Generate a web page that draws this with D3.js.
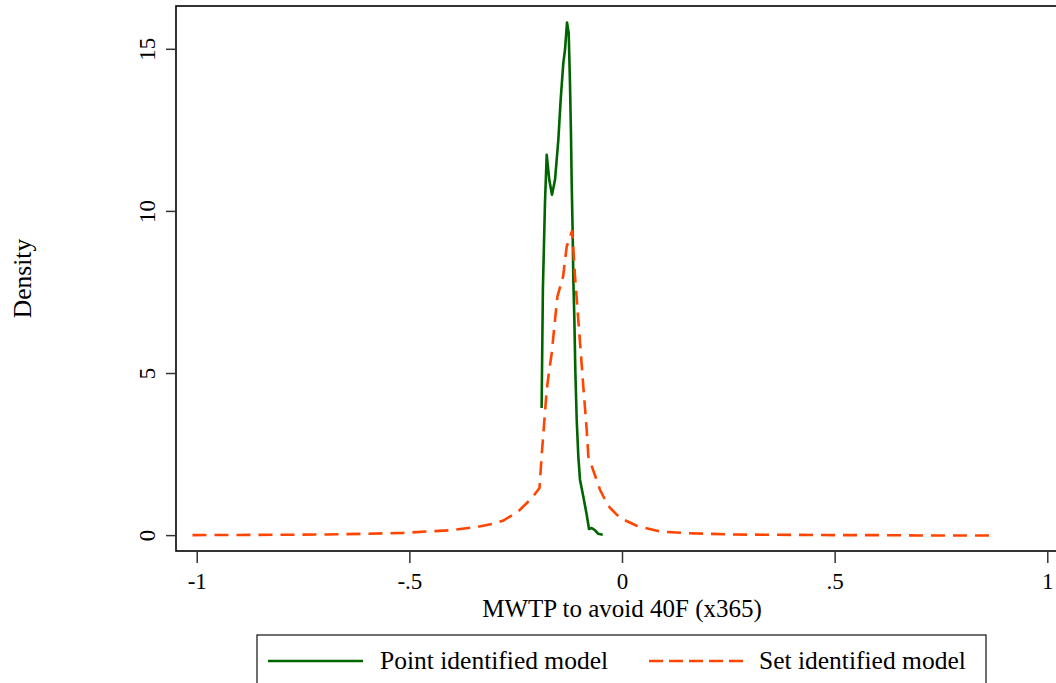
<!DOCTYPE html>
<html>
<head>
<meta charset="utf-8">
<script src="https://cdn.jsdelivr.net/npm/d3@7"></script>
<style>
  html, body { margin: 0; padding: 0; background: #fff; }
  svg { display: block; }
  text { font-family: "Liberation Serif", "Times New Roman", serif; fill: #000; }
</style>
</head>
<body>
<svg id="chart" width="1056" height="683"></svg>
<script>
// ---- data ----
const xTickValues = [-1, -0.5, 0, 0.5, 1];
const xTickLabels = ["-1", "-.5", "0", ".5", "1"];
const yTickValues = [0, 5, 10, 15];
const yTickLabels = ["0", "5", "10", "15"];

const seriesNames = ["Point identified model", "Set identified model"];

// Point identified model (kernel density)
const pointX = [-0.189, -0.186, -0.181, -0.177, -0.171, -0.1646, -0.1575, -0.1497, -0.1442, -0.138, -0.134, -0.1293,
                -0.1253, -0.1223, -0.120, -0.1183, -0.116, -0.1144, -0.112, -0.1098, -0.1065, -0.1027, -0.0988,
                -0.091, -0.083, -0.0776, -0.0713, -0.0635, -0.0557, -0.0454];
const pointY = [3.92, 7.6, 10.3, 11.73, 10.96, 10.50, 10.96, 12.19, 13.43, 14.56, 14.97, 15.81,
                15.48, 13.94, 12.40, 10.87, 9.32, 7.88, 6.64, 5.10, 3.56, 2.43, 1.71,
                1.19, 0.63, 0.19, 0.22, 0.15, 0.04, 0.01];

// Set identified model (kernel density)
const setX = [-1.01, -0.9, -0.8, -0.694, -0.6, -0.514, -0.459, -0.404, -0.342, -0.3, -0.279, -0.244, -0.212, -0.194,
              -0.189, -0.183, -0.177, -0.173, -0.1653, -0.1575, -0.152, -0.1385, -0.130, -0.117,
              -0.1105, -0.1027, -0.091, -0.083, -0.0792, -0.0517, -0.036, -0.028, -0.0047, 0.0345, 0.089, 0.152,
              0.262, 0.35, 0.513, 0.6, 0.7, 0.877];
const setY = [0.0, 0.005, 0.01, 0.02, 0.04, 0.07, 0.11, 0.15, 0.25, 0.36, 0.45, 0.73, 1.14, 1.45,
              2.43, 3.46, 4.48, 4.9, 5.61, 6.64, 7.35, 7.98, 8.90, 9.40,
              7.98, 6.64, 4.59, 3.25, 2.43, 1.40, 0.99, 0.84, 0.53, 0.29, 0.11, 0.06,
              0.02, 0.01, 0.0, 0.0, -0.01, -0.01];

// ---- layout ----
const svg = d3.select("#chart");
const plot = { left: 176, right: 1068, top: 6, bottom: 551 };

const x = d3.scaleLinear().domain([-1.0487, 1.0487]).range([plot.left, plot.right]);
const y = d3.scaleLinear().domain([-0.49, 16.32]).range([plot.bottom, plot.top]);

const font = '"Liberation Serif", "Times New Roman", serif';

// plot region frame
svg.append("rect")
  .attr("x", plot.left).attr("y", plot.top)
  .attr("width", plot.right - plot.left).attr("height", plot.bottom - plot.top)
  .attr("fill", "none").attr("stroke", "#000").attr("stroke-width", 1.6);

// y axis
const yAxis = d3.axisLeft(y).tickValues(yTickValues)
  .tickFormat((d, i) => yTickLabels[i]).tickSize(10).tickSizeOuter(0);
const gy = svg.append("g").attr("transform", `translate(${plot.left},0)`).call(yAxis);
gy.select(".domain").remove();
gy.selectAll(".tick line").attr("stroke", "#333").attr("stroke-width", 1.5);
gy.selectAll(".tick text")
  .attr("x", null).attr("dy", null)
  .attr("transform", "translate(-21,0) rotate(-90)")
  .attr("text-anchor", "middle")
  .style("font-family", font).style("font-size", "23px");

// x axis
const xAxis = d3.axisBottom(x).tickValues(xTickValues)
  .tickFormat((d, i) => xTickLabels[i]).tickSize(12).tickSizeOuter(0);
const gx = svg.append("g").attr("transform", `translate(0,${plot.bottom})`).call(xAxis);
gx.select(".domain").remove();
gx.selectAll(".tick line").attr("stroke", "#333").attr("stroke-width", 1.5);
gx.selectAll(".tick text")
  .attr("y", 38).attr("dy", null)
  .attr("text-anchor", "middle")
  .style("font-family", font).style("font-size", "23px");

// axis titles
svg.append("text")
  .attr("x", (plot.left + plot.right) / 2).attr("y", 617)
  .attr("text-anchor", "middle")
  .style("font-size", "25px")
  .text("MWTP to avoid 40F (x365)");

svg.append("text")
  .attr("transform", `translate(31,${(plot.top + plot.bottom) / 2}) rotate(-90)`)
  .attr("text-anchor", "middle")
  .style("font-size", "25.5px")
  .text("Density");

// lines
const line = d3.line().x(d => x(d[0])).y(d => y(d[1])).curve(d3.curveLinear);
const pointData = pointX.map((v, i) => [v, pointY[i]]);
const setData = setX.map((v, i) => [v, setY[i]]);

const colors = ["#006400", "#ff4500"];

svg.append("path").datum(pointData)
  .attr("d", line).attr("fill", "none")
  .attr("stroke", colors[0]).attr("stroke-width", 2.6)
  .attr("stroke-linejoin", "round");

svg.append("path").datum(setData)
  .attr("d", line).attr("fill", "none")
  .attr("stroke", colors[1]).attr("stroke-width", 2.6)
  .attr("stroke-dasharray", "14,8");

// legend
const lg = svg.append("g");
lg.append("rect")
  .attr("x", 257).attr("y", 635).attr("width", 729).attr("height", 56)
  .attr("fill", "#fff").attr("stroke", "#222").attr("stroke-width", 1.3);

const legendItems = [
  { x1: 268, x2: 363, tx: 380, dash: null },
  { x1: 649, x2: 743, tx: 759, dash: "14,6" }
];
legendItems.forEach((it, i) => {
  lg.append("line")
    .attr("x1", it.x1).attr("x2", it.x2).attr("y1", 661).attr("y2", 661)
    .attr("stroke", colors[i]).attr("stroke-width", 2.6)
    .attr("stroke-dasharray", it.dash);
  lg.append("text")
    .attr("x", it.tx).attr("y", 669)
    .style("font-size", "25.5px")
    .text(seriesNames[i]);
});
</script>
</body>
</html>
